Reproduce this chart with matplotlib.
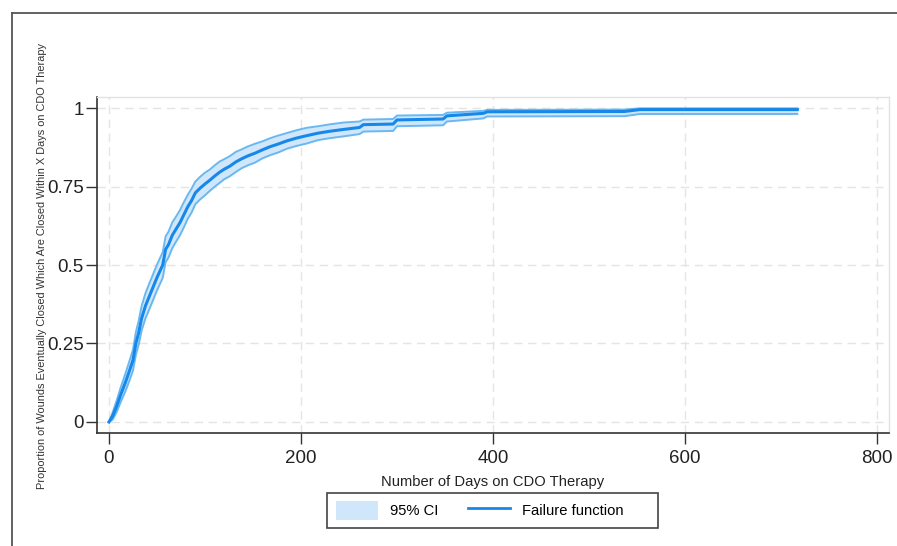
import matplotlib
matplotlib.use("Agg")
import matplotlib.pyplot as plt
from matplotlib.lines import Line2D
from matplotlib.patches import Patch, Rectangle

plt.rcParams['font.family'] = ['Liberation Sans', 'DejaVu Sans']

days = [0, 4, 8, 12, 17, 21, 25, 28, 31, 34, 38, 42, 46, 50, 53, 56, 59, 62, 66, 70,
        74, 78, 82, 86, 90, 95, 100, 105, 110, 115, 120, 126, 132, 138, 145, 152, 160,
        168, 176, 185, 195, 206, 218, 230, 245, 261, 265, 296, 300, 348, 352, 390, 394,
        537, 553, 717]
failure = [0, 0.02, 0.05, 0.085, 0.125, 0.16, 0.197, 0.25, 0.285, 0.33, 0.37, 0.40, 0.43,
           0.46, 0.48, 0.50, 0.55, 0.565, 0.595, 0.615, 0.635, 0.66, 0.685, 0.705, 0.73,
           0.745, 0.758, 0.77, 0.783, 0.795, 0.805, 0.815, 0.828, 0.838, 0.848, 0.856,
           0.867, 0.877, 0.885, 0.895, 0.904, 0.912, 0.92, 0.926, 0.932, 0.938, 0.947,
           0.949, 0.962, 0.965, 0.975, 0.983, 0.988, 0.989, 0.995, 0.995]
ci_low = [0, 0.008, 0.032, 0.062, 0.097, 0.129, 0.164, 0.214, 0.247, 0.291, 0.330, 0.359,
          0.389, 0.419, 0.439, 0.459, 0.509, 0.524, 0.554, 0.575, 0.595, 0.620, 0.647,
          0.667, 0.694, 0.709, 0.722, 0.736, 0.749, 0.761, 0.773, 0.783, 0.796, 0.808,
          0.818, 0.826, 0.840, 0.850, 0.858, 0.870, 0.879, 0.887, 0.898, 0.904, 0.910,
          0.917, 0.925, 0.927, 0.942, 0.945, 0.957, 0.967, 0.973, 0.974, 0.981, 0.981]
ci_high = [0, 0.032, 0.068, 0.108, 0.153, 0.191, 0.230, 0.286, 0.323, 0.369, 0.410, 0.441,
           0.471, 0.501, 0.521, 0.541, 0.591, 0.606, 0.636, 0.655, 0.675, 0.700, 0.723,
           0.743, 0.766, 0.781, 0.794, 0.804, 0.817, 0.829, 0.837, 0.847, 0.860, 0.868,
           0.878, 0.886, 0.894, 0.904, 0.912, 0.920, 0.929, 0.937, 0.942, 0.948, 0.954,
           0.957, 0.963, 0.965, 0.976, 0.978, 0.985, 0.991, 0.994, 0.995, 0.999, 0.999]

x_ticks = [0, 200, 400, 600, 800]
y_ticks = [0, 0.25, 0.5, 0.75, 1]
y_tick_labels = ['0', '0.25', '0.5', '0.75', '1']

line_color = '#1688ea'
band_fill = '#d0e7fb'
band_edge = '#69b8f2'

fig = plt.figure(figsize=(8.97, 5.46), dpi=100)
ax = fig.add_axes([0.1081, 0.2070, 0.9911 - 0.1081, 0.8223 - 0.2070])

ax.fill_between(days, ci_low, ci_high, color=band_fill, lw=0, zorder=2)
ax.plot(days, ci_low, color=band_edge, lw=1.4, zorder=3)
ax.plot(days, ci_high, color=band_edge, lw=1.4, zorder=3)
ax.plot(days, failure, color=line_color, lw=2.2, zorder=4)

ax.set_xlim(-12.5, 812.5)
ax.set_ylim(-0.035, 1.035)
ax.set_xticks(x_ticks)
ax.set_yticks(y_ticks)
ax.set_yticklabels(y_tick_labels)
ax.tick_params(axis='both', labelsize=13.5, length=8, width=1, color='#333333',
               labelcolor='#222222')
ax.tick_params(axis='y', pad=1.5)
ax.tick_params(axis='x', pad=4)

ax.grid(True, color='#e4e4e4', linestyle=(0, (6, 4)), lw=1.0, zorder=1)
ax.set_axisbelow(True)

for s in ['left', 'bottom']:
    ax.spines[s].set_color('#333333')
    ax.spines[s].set_linewidth(1.2)
for s in ['top', 'right']:
    ax.spines[s].set_color('#e2e2e2')
    ax.spines[s].set_linewidth(1.0)

ax.set_xlabel('Number of Days on CDO Therapy', fontsize=10.6, color='#222222', labelpad=6)
fig.text(42 / 897, 1 - 266 / 546,
         'Proportion of Wounds Eventually Closed Which Are Closed Within X Days on CDO Therapy',
         rotation=90, fontsize=7.9, color='#333333', ha='center', va='center')

handles = [Patch(facecolor=band_fill, edgecolor='none', label='95% CI'),
           Line2D([0], [0], color=line_color, lw=2, label='Failure function')]
leg = fig.legend(handles=handles, loc='center left', bbox_to_anchor=(336 / 897, 1 - 510.5 / 546),
                 ncol=2, fontsize=10.6, frameon=False, borderpad=0, borderaxespad=0,
                 handlelength=2.85, handleheight=1.6, columnspacing=2.0,
                 handletextpad=0.82)
fig.add_artist(Rectangle((327 / 897, 1 - 528 / 546), (658 - 327) / 897, 35 / 546,
                         transform=fig.transFigure, fill=False, edgecolor='#444444', lw=1.2))

# outer figure frame (left and top edges)
fig.add_artist(Line2D([12 / 897, 12 / 897], [0, 1 - 13 / 546], transform=fig.transFigure,
                      color='#555555', lw=1.3))
fig.add_artist(Line2D([12 / 897, 1], [1 - 13 / 546, 1 - 13 / 546], transform=fig.transFigure,
                      color='#555555', lw=1.3))

fig.savefig('out.png', dpi=100)
